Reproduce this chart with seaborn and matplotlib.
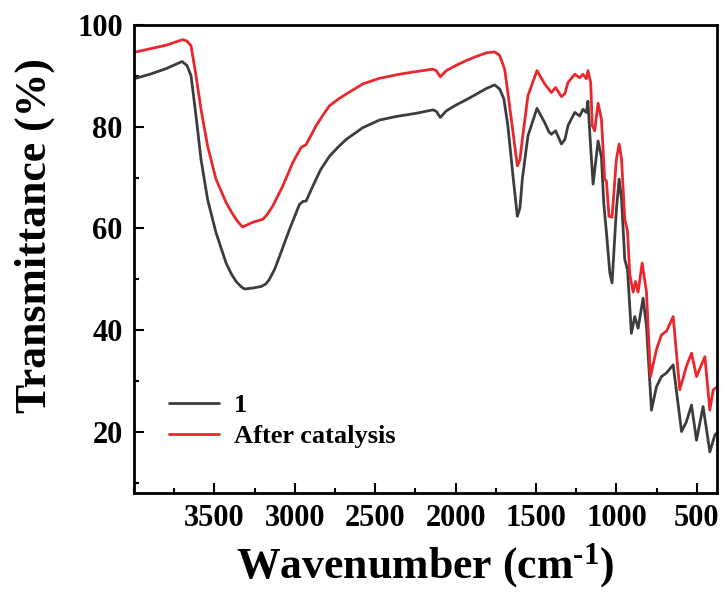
import numpy as np
import pandas as pd
import matplotlib
matplotlib.use("Agg")
import matplotlib.pyplot as plt
from matplotlib.ticker import MultipleLocator
import seaborn as sns

# ---- data ----
wn_1 = [4000, 3900, 3800, 3701, 3670, 3645, 3614, 3583, 3542, 3490, 3427, 3395, 3365, 3335,
        3313, 3260, 3209, 3180, 3158, 3125, 3095, 3033, 2971, 2950, 2929, 2888, 2840, 2784,
        2730, 2680, 2577, 2473, 2369, 2250,
        2141, 2120, 2095, 2058, 2000, 1933, 1870, 1809, 1757, 1726, 1700, 1675, 1643, 1616,
        1600, 1585, 1550, 1494, 1446, 1420, 1404, 1378, 1342, 1320, 1301, 1259, 1228, 1208,
        1187, 1177, 1162, 1145, 1114, 1093, 1079, 1062, 1041, 1027, 1000, 983, 968, 948, 931,
        917, 907, 886, 865, 834, 813, 782, 751, 720, 689, 647, 595, 565, 533, 502, 461, 419,
        388, 376]
t_1 = [89.4, 90.3, 91.4, 92.8, 92.0, 90.0, 82.1, 73.6, 65.7, 59.2, 53.2, 51.1, 49.6, 48.6,
       48.1, 48.3, 48.6, 49.1, 50.0, 52.0, 54.5, 59.8, 64.7, 65.3, 65.4, 68.3, 71.5, 74.2,
       76.0, 77.5, 79.8, 81.3, 82.0, 82.6,
       83.3, 83.0, 81.8, 83.1, 84.2, 85.3, 86.4, 87.5, 88.2, 87.4, 85.5, 80.2, 70.3, 62.4,
       64.0, 69.7, 78.2, 83.6, 80.8, 79.0, 78.5, 79.2, 76.6, 77.5, 80.2, 82.8, 82.1, 83.4,
       82.8, 85.0, 76.9, 68.7, 77.2, 74.0, 65.1, 59.2, 51.3, 49.3, 63.8, 69.7, 65.7, 53.9, 51.9,
       44.7, 39.4, 42.7, 40.4, 46.3, 40.8, 24.3, 28.9, 30.9, 31.6, 33.2, 20.1, 22.0, 25.3, 18.4,
       25.0, 16.1, 19.4, 19.8]

wn_cat = [4000, 3900, 3800, 3697, 3670, 3645, 3614, 3583, 3542, 3490, 3427, 3395, 3365, 3340,
          3324, 3262, 3199, 3170, 3137, 3075, 3013, 2961, 2929, 2867, 2820, 2784, 2730, 2680,
          2577, 2473, 2349, 2250, 2141,
          2120, 2095, 2058, 2000, 1933, 1870, 1809, 1757, 1726, 1695, 1675, 1643, 1616, 1600,
          1585, 1550, 1494, 1446, 1404, 1378, 1342, 1320, 1301, 1259, 1228, 1208, 1187, 1177,
          1160, 1150, 1135, 1114, 1093, 1073, 1062, 1046, 1027, 1000, 983, 968, 948, 931, 917,
          896, 881, 865, 840, 813, 788, 751, 720, 689, 647, 606, 565, 533, 502, 450, 419, 398, 376]
t_cat = [94.6, 95.3, 96.0, 97.1, 96.8, 95.9, 90.0, 83.4, 76.2, 69.7, 65.1, 63.3, 61.8, 60.8,
         60.3, 61.2, 61.8, 62.8, 64.4, 68.3, 72.9, 75.9, 76.5, 80.2, 82.5, 84.1, 85.4, 86.4,
         88.4, 89.5, 90.3, 90.8, 91.3,
         91.0, 89.8, 91.0, 92.0, 93.0, 93.8, 94.5, 94.7, 94.0, 91.3, 86.7, 78.9, 72.3, 73.5,
         77.5, 86.1, 91.0, 88.4, 86.7, 87.7, 85.9, 86.5, 88.7, 90.3, 89.6, 90.3, 89.4, 91.0,
         88.7, 80.2, 79.2, 84.6, 81.5, 69.7, 69.3, 62.4, 62.2, 73.6, 76.6, 73.6, 61.8, 59.5, 51.0,
         47.5, 49.6, 47.5, 53.2, 47.5, 30.9, 36.2, 39.1, 39.8, 42.7, 28.3, 32.9, 35.5, 30.9,
         34.8, 24.3, 28.3, 28.8]

series_names = ["1", "After catalysis"]
series_colors = ["#3d3d3d", "#e8282d"]

x_ticks = [3500, 3000, 2500, 2000, 1500, 1000, 500]
y_ticks = [20, 40, 60, 80, 100]

df = pd.concat([
    pd.DataFrame({"wn": wn_1, "T": t_1, "sample": series_names[0]}),
    pd.DataFrame({"wn": wn_cat, "T": t_cat, "sample": series_names[1]}),
], ignore_index=True)

# ---- style ----
sns.set_style("ticks")
plt.rcParams["font.family"] = ["Liberation Serif", "DejaVu Serif"]
plt.rcParams["font.weight"] = "bold"
plt.rcParams["text.color"] = "black"
plt.rcParams["axes.labelcolor"] = "black"
plt.rcParams["axes.edgecolor"] = "black"
plt.rcParams["xtick.color"] = "black"
plt.rcParams["ytick.color"] = "black"
plt.rcParams["mathtext.fontset"] = "custom"
plt.rcParams["mathtext.rm"] = "Liberation Serif:bold"
plt.rcParams["mathtext.it"] = "Liberation Serif:bold"
plt.rcParams["mathtext.bf"] = "Liberation Serif:bold"

fig = plt.figure(figsize=(7.24, 5.92), dpi=100)
ax = fig.add_axes([0.185, 0.167, 0.805, 0.791])

sns.lineplot(data=df, x="wn", y="T", hue="sample", palette=dict(zip(series_names, series_colors)),
             sort=False, estimator=None, linewidth=2.0, ax=ax)

ax.set_xlim(4000, 376)
ax.set_ylim(8, 100)
ax.set_xticks(x_ticks)
ax.set_yticks(y_ticks)
ax.xaxis.set_minor_locator(MultipleLocator(250))
ax.yaxis.set_minor_locator(MultipleLocator(10))

for s in ax.spines.values():
    s.set_linewidth(2.0)
    s.set_visible(True)
    s.set_color("black")
ax.tick_params(which="both", direction="in", width=1.5, top=False, right=False, colors="black")
ax.tick_params(which="major", length=7, labelsize=22, pad=8)
ax.tick_params(which="minor", length=3.5)
for lab in ax.get_xticklabels() + ax.get_yticklabels():
    lab.set_fontweight("bold")

ax.set_xlabel(r"Wavenumber (cm$^{\text{-1}}$)", fontsize=31.5, fontweight="bold", labelpad=6)
ax.set_ylabel("Transmittance (%)", fontsize=31.5, fontweight="bold")
ax.yaxis.set_label_coords(-0.135, 0.55)

leg = ax.legend(loc="lower left", bbox_to_anchor=(0.02, 0.045), frameon=False,
                prop={"size": 19, "weight": "bold"}, handlelength=1.9, handletextpad=0.55,
                labelspacing=0.3)
for line in leg.get_lines():
    line.set_linewidth(2.0)

fig.savefig("out.png", dpi=100)
